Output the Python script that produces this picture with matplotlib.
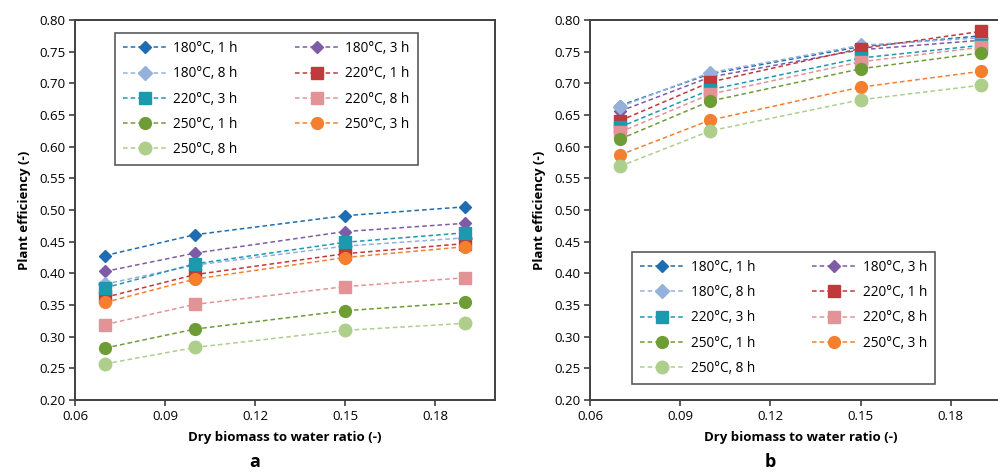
import numpy as np
import matplotlib
matplotlib.use("Agg")
import matplotlib.pyplot as plt

plt.rcParams["font.family"] = ["Open Sans", "DejaVu Sans"]

ratio = [0.07, 0.10, 0.15, 0.19]

labels = [
    "180°C, 1 h", "180°C, 3 h", "180°C, 8 h",
    "220°C, 1 h", "220°C, 3 h", "220°C, 8 h",
    "250°C, 1 h", "250°C, 3 h", "250°C, 8 h",
]

# panel a
eff_a = [
    [0.428, 0.461, 0.491, 0.505],
    [0.403, 0.432, 0.466, 0.479],
    [0.383, 0.413, 0.443, 0.456],
    [0.362, 0.398, 0.431, 0.447],
    [0.377, 0.415, 0.449, 0.464],
    [0.319, 0.351, 0.379, 0.393],
    [0.282, 0.312, 0.341, 0.354],
    [0.354, 0.391, 0.425, 0.442],
    [0.257, 0.283, 0.310, 0.321],
]

# panel b
eff_b = [
    [0.665, 0.715, 0.758, 0.775],
    [0.656, 0.710, 0.753, 0.768],
    [0.663, 0.717, 0.760, 0.772],
    [0.641, 0.702, 0.755, 0.782],
    [0.631, 0.690, 0.740, 0.760],
    [0.623, 0.683, 0.734, 0.757],
    [0.612, 0.672, 0.723, 0.748],
    [0.587, 0.642, 0.694, 0.719],
    [0.569, 0.625, 0.674, 0.697],
]

colors = ["#1F6DB0", "#7D5BA6", "#93B1DA", "#C0393B", "#1B9AAF",
          "#E39395", "#6E9C35", "#F47F2E", "#AECF8C"]
markers = ["D", "D", "D", "s", "s", "s", "o", "o", "o"]
msizes = [6.5, 6.5, 7, 8, 8, 8, 8.5, 8.5, 9]

W, H = 998, 475
fig = plt.figure(figsize=(W / 100, H / 100), dpi=100)


def panel(left_px, right_px, data, leg_xy, letter, letter_x):
    ax = fig.add_axes([left_px / W, 75 / H, (right_px - left_px) / W, 380 / H])
    for i, vals in enumerate(data):
        ax.plot(ratio, vals, linestyle=(0, (3, 2)), linewidth=1.1,
                color=colors[i], marker=markers[i], markersize=msizes[i],
                markeredgecolor=colors[i], label=labels[i], zorder=3 + i)
    ax.set_xlim(0.06, 0.20)
    ax.set_ylim(0.20, 0.80)
    ax.set_xticks(np.arange(0.06, 0.181, 0.03))
    ax.set_xticklabels(["0.06", "0.09", "0.12", "0.15", "0.18"])
    ax.set_yticks(np.arange(0.20, 0.801, 0.05))
    ax.set_yticklabels([f"{v:.2f}" for v in np.arange(0.20, 0.801, 0.05)])
    for s in ax.spines.values():
        s.set_color("#404040")
        s.set_linewidth(1.4)
    ax.tick_params(direction="out", length=4, width=1.2, color="#404040",
                   labelsize=9.5, pad=3)
    ax.set_xlabel("Dry biomass to water ratio (-)", fontsize=9.5,
                  fontweight="bold", labelpad=6)
    ax.set_ylabel("Plant efficiency (-)", fontsize=9.5, fontweight="bold",
                  labelpad=6)
    h, l = ax.get_legend_handles_labels()
    order = [0, 2, 4, 6, 8, 1, 3, 5, 7]
    leg = ax.legend([h[k] for k in order], [l[k] for k in order], ncol=2,
                    loc="upper left", bbox_to_anchor=leg_xy, fontsize=9.8,
                    frameon=True, fancybox=False, edgecolor="#303030",
                    handlelength=3.2, columnspacing=4.2, labelspacing=0.75,
                    borderpad=0.6, handletextpad=0.5, borderaxespad=0)
    leg.get_frame().set_linewidth(1.2)
    leg.set_zorder(20)
    fig.text(letter_x / W, 1 - 462 / H, letter, fontsize=13,
             fontweight="bold", ha="center", va="center")
    return ax


panel(75, 495, eff_a, (0.095, 0.966), "a", 255)
panel(590, 1011, eff_b, (0.10, 0.39), "b", 770)

fig.savefig("out.png", dpi=100)
